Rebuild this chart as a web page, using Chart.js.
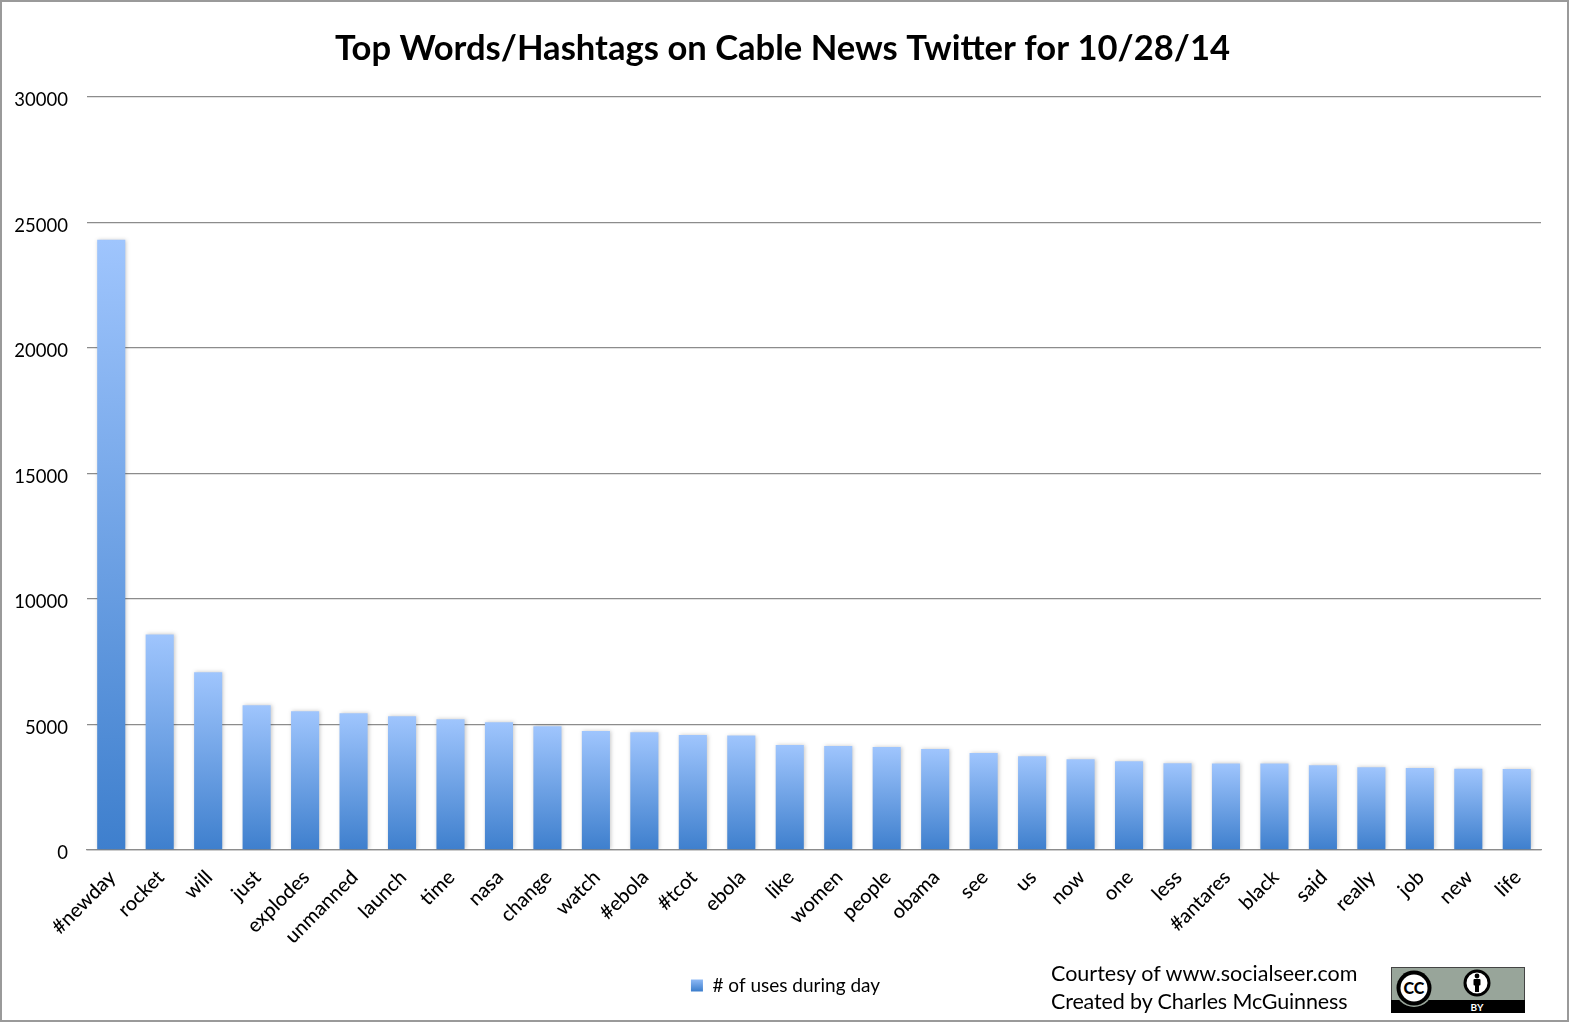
<!DOCTYPE html>
<html>
<head>
<meta charset="utf-8">
<title>Top Words/Hashtags on Cable News Twitter</title>
<script src="https://cdn.jsdelivr.net/npm/chart.js@4"></script>
<style>
  html, body { margin: 0; padding: 0; background: #fff; overflow: hidden; }
  #wrap { position: relative; width: 1570px; height: 1023px; }
  #frame { position: absolute; left: 0; top: 0; width: 1565px; height: 1018px; border: 2px solid #9a9a9a; pointer-events: none; }
  #credit { position: absolute; left: 1051px; top: 960px; font: 21.5px/27.5px Lato, sans-serif; color: #000; white-space: nowrap; }
  #credit span { letter-spacing: -0.14px; }
  #badge { position: absolute; left: 1391px; top: 967px; }
</style>
</head>
<body>
<div id="wrap">
  <canvas id="wordsChart" width="1570" height="1023"></canvas>
  <div id="frame"></div>
  <div id="credit">Courtesy of www.socialseer.com<br><span>Created by Charles McGuinness</span></div>
  <svg id="badge" width="134" height="46" viewBox="0 0 134 46">
    <rect width="134" height="46" fill="#98a59a"/>
    <rect x="0.5" y="0.5" width="133" height="45" fill="none" stroke="#444"/>
    <rect y="33" width="134" height="13" fill="#000"/>
    <circle cx="23" cy="21" r="19" fill="#98a59a"/>
    <circle cx="23" cy="21" r="17.5" fill="#000"/>
    <circle cx="23" cy="21" r="13.5" fill="#fff"/>
    <text x="23" y="27" text-anchor="middle" font-family="Lato" font-weight="900" font-size="16" fill="#000">CC</text>
    <circle cx="86" cy="16" r="12" fill="#fff" stroke="#000" stroke-width="3"/>
    <circle cx="86" cy="9" r="2.4" fill="#000"/>
    <rect x="82.5" y="12" width="7" height="6.5" rx="1" fill="#000"/>
    <rect x="84" y="17" width="4" height="8" fill="#000"/>
    <text x="86" y="43.5" text-anchor="middle" font-family="Lato" font-weight="700" font-size="10" fill="#fff">BY</text>
  </svg>
</div>
<script>
const categories = ['#newday', 'rocket', 'will', 'just', 'explodes', 'unmanned', 'launch', 'time', 'nasa', 'change',
  'watch', '#ebola', '#tcot', 'ebola', 'like', 'women', 'people', 'obama', 'see', 'us',
  'now', 'one', 'less', '#antares', 'black', 'said', 'really', 'job', 'new', 'life'];
const usesDuringDay = [24310, 8590, 7080, 5770, 5530, 5450, 5330, 5210, 5090, 4930,
  4740, 4690, 4580, 4560, 4180, 4140, 4100, 4020, 3860, 3740,
  3620, 3540, 3460, 3450, 3450, 3380, 3300, 3270, 3240, 3230];
const seriesLabel = '# of uses during day';
const chartTitle = 'Top Words/Hashtags on Cable News Twitter for 10/28/14';

const FONT = 'Lato';
const TEXT = '#000';
const GRID = '#8c8c8c';
const FADE_TOP = '#9fc5fd';
const FADE_BOTTOM = '#3e7fcd';

function fade(ctx, top, bottom) {
  const grad = ctx.createLinearGradient(0, top, 0, bottom);
  grad.addColorStop(0, FADE_TOP);
  grad.addColorStop(1, FADE_BOTTOM);
  return grad;
}

// each bar gets its own top-to-bottom fade
function barFill(context) {
  const chart = context.chart;
  const yScale = chart.scales.y;
  if (context.type !== 'data' || !yScale) return FADE_BOTTOM;
  const top = yScale.getPixelForValue(context.raw);
  const bottom = yScale.getPixelForValue(0);
  // scale has no pixels yet on the first pass, before layout
  if (!isFinite(top) || !isFinite(bottom)) return FADE_BOTTOM;
  return fade(chart.ctx, top, bottom);
}

// soft shadow behind the bars
const barShadow = {
  id: 'barShadow',
  beforeDatasetsDraw(chart) {
    const ctx = chart.ctx;
    ctx.save();
    ctx.shadowColor = 'rgba(0, 0, 0, 0.22)';
    ctx.shadowBlur = 4;
    ctx.shadowOffsetX = 1;
  },
  afterDatasetsDraw(chart) {
    chart.ctx.restore();
  }
};

// title and legend sit off the plot's centre in the reference
const centreBlocks = {
  id: 'centreBlocks',
  afterLayout(chart) {
    chart.titleBlock.left = 0;
    chart.titleBlock.right = 1565;
    chart.legend.left = 1;
    chart.legend.right = 1570;
  }
};

new Chart(document.getElementById('wordsChart').getContext('2d'), {
  type: 'bar',
  data: {
    labels: categories,
    datasets: [{
      label: seriesLabel,
      data: usesDuringDay,
      backgroundColor: barFill,
      categoryPercentage: 1,
      barPercentage: 0.58
    }]
  },
  plugins: [barShadow, centreBlocks],
  options: {
    responsive: false,
    animation: false,
    layout: { padding: { left: 10, right: 29, top: 0, bottom: 18 } },
    plugins: {
      title: {
        display: true,
        text: chartTitle,
        color: TEXT,
        font: { family: FONT, size: 34.6, weight: 'bold' },
        padding: { top: 28, bottom: 27.5 }
      },
      legend: {
        position: 'bottom',
        labels: {
          color: TEXT,
          font: { family: FONT, size: 19 },
          boxWidth: 12,
          boxHeight: 12,
          padding: 10,
          generateLabels(chart) {
            const items = Chart.defaults.plugins.legend.labels.generateLabels(chart);
            items.forEach(item => { item.fillStyle = fade(chart.ctx, 977, 991); });
            return items;
          }
        }
      },
      tooltip: { enabled: false }
    },
    scales: {
      x: {
        grid: { display: false, drawTicks: false },
        border: { color: GRID, width: 1.3 },
        ticks: {
          color: TEXT,
          font: { family: FONT, size: 20, weight: '500' },
          maxRotation: 45,
          minRotation: 45,
          autoSkip: false,
          padding: 15.5,
          labelOffset: 1
        },
        afterFit: scale => { scale.height = 116; }
      },
      y: {
        min: 0,
        max: 30000,
        grid: { color: GRID, lineWidth: 1.3, drawTicks: false },
        border: { display: false },
        ticks: {
          color: TEXT,
          font: { family: FONT, size: 18.5 },
          stepSize: 5000,
          padding: 19,
          labelOffset: 3.5,
          callback: value => String(value)
        },
        afterFit: scale => { scale.width = 77; }
      }
    }
  }
});
</script>
</body>
</html>
